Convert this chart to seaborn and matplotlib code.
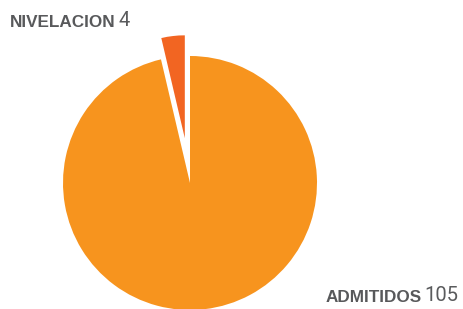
import matplotlib
matplotlib.use("Agg")
import matplotlib.pyplot as plt
import seaborn as sns

labels = ["NIVELACION", "ADMITIDOS"]
values = [4, 105]
colors = ["#F26522", "#F7941E"]

sns.set_theme(style="white")
plt.rcParams["font.family"] = ["Liberation Sans", "DejaVu Sans"]

fig = plt.figure(figsize=(4.64, 3.09), dpi=100)
ax = fig.add_axes([0, 0, 1, 1])

wedges, _ = ax.pie(values, colors=colors, startangle=90, counterclock=True,
                   explode=[0.355, 0], radius=1,
                   wedgeprops=dict(linewidth=0))
# small slice is drawn a bit shorter than the big one
wedges[0].set_radius(0.81)

ax.set_xlim(-190 / 127, (464 - 190) / 127)
ax.set_ylim(-(309 - 183) / 127, 183 / 127)
ax.set_aspect("auto")
ax.axis("off")

txt_color = "#58595B"
num_color = "#5A5B5D"
num_font = ["Roboto", "Liberation Sans", "DejaVu Sans"]

t1 = fig.text(10 / 464, 1 - 27 / 309, labels[0], fontsize=12.3, fontweight="bold",
              color=txt_color, va="baseline", ha="left")
ax.annotate(str(values[0]), xy=(1, 0), xycoords=t1, xytext=(2, 0),
            textcoords="offset points", fontsize=14.5, color=num_color,
            family=num_font, fontweight="normal", va="bottom", ha="left")

n2 = fig.text(458 / 464, 1 - 301 / 309, str(values[1]), fontsize=14.5, color=num_color,
              family=num_font, fontweight="normal", va="baseline", ha="right")
ax.annotate(labels[1], xy=(0, 0), xycoords=n2, xytext=(-2, 0),
            textcoords="offset points", fontsize=12.3, fontweight="bold",
            color=txt_color, va="bottom", ha="right")

fig.savefig("out.png", dpi=100)
